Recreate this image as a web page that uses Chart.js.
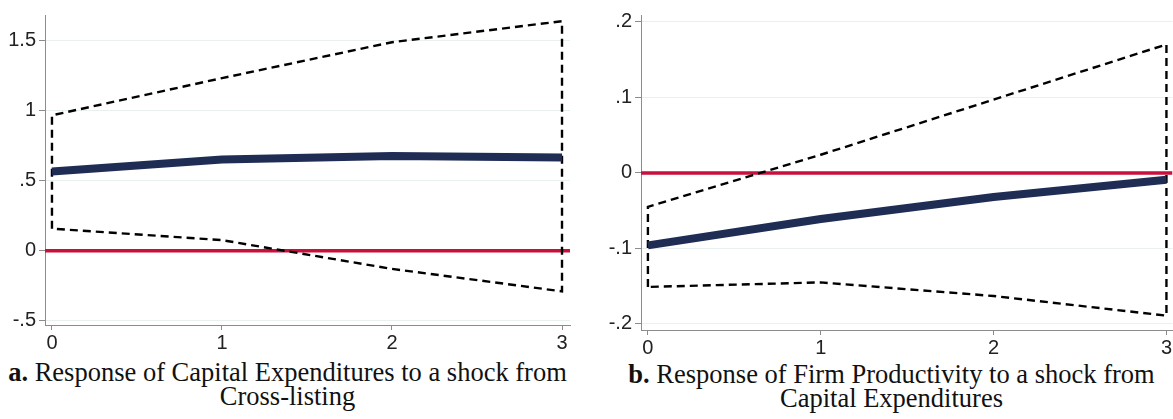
<!DOCTYPE html>
<html>
<head>
<meta charset="utf-8">
<script src="https://cdn.jsdelivr.net/npm/chart.js@4.4.1/dist/chart.umd.min.js"></script>
<style>
  html, body { margin: 0; padding: 0; background: #fff; }
  body { width: 1173px; height: 419px; position: relative; overflow: hidden; }
  .panel { position: absolute; top: 0; height: 355px; }
  .caption {
    position: absolute; text-align: center; color: #111;
    font-family: "Liberation Serif", "Times New Roman", serif;
    font-size: 26.5px; line-height: 24px; white-space: nowrap;
  }
</style>
</head>
<body>
<div class="panel" style="left:0; width:585px;"><canvas id="capexChart"></canvas></div>
<div class="panel" style="left:590px; width:583px;"><canvas id="prodChart"></canvas></div>
<div class="caption" style="left:0; width:575px; top:360px;"><b>a.</b> Response of Capital Expenditures to a shock from<br>Cross-listing</div>
<div class="caption" style="left:610px; width:563px; top:362px;"><b>b.</b> Response of Firm Productivity to a shock from<br>Capital Expenditures</div>
<script>
// periods after the shock
const horizons = [0, 1, 2, 3];

// a. capex response to cross-listing
const capexIrf   = [0.565, 0.65, 0.675, 0.665];
const capexUpper = [0.965, 1.23, 1.486, 1.636];
const capexLower = [0.157, 0.075, -0.13, -0.29];
const capexTicks = [-0.5, 0, 0.5, 1, 1.5];
const capexTickLabels = ['-.5', '0', '.5', '1', '1.5'];

// b. productivity response to capex
const prodIrf   = [-0.096, -0.061, -0.032, -0.009];
const prodUpper = [-0.045, 0.024, 0.097, 0.17];
const prodLower = [-0.151, -0.145, -0.163, -0.189];
const prodTicks = [-0.2, -0.1, 0, 0.1, 0.2];
const prodTickLabels = ['-.2', '-.1', '0', '.1', '.2'];

const NAVY = '#1f2d55';
const RED = '#c8103c';
const GRID = '#e9f0f0';
const AXIS = '#8c8c8c';

Chart.defaults.font.family = "'Liberation Sans', Arial, sans-serif";
Chart.defaults.font.size = 20;
Chart.defaults.color = '#222';

// closed outline of the confidence band: up the left end, along upper, down the right end, back along lower
function bandOutline(lower, upper) {
    const pts = [{ x: horizons[0], y: lower[0] }];
    horizons.forEach((h, i) => pts.push({ x: h, y: upper[i] }));
    for (let i = horizons.length - 1; i >= 0; i--) pts.push({ x: horizons[i], y: lower[i] });
    return pts;
}

function makeChart(id, o) {
    const ctx = document.getElementById(id).getContext('2d');
    return new Chart(ctx, {
        type: 'line',
        data: {
            datasets: [
                {
                    data: horizons.map((h, i) => ({ x: h, y: o.irf[i] })),
                    borderColor: NAVY, borderWidth: 8, pointRadius: 0,
                    borderCapStyle: 'butt', order: 0
                },
                {
                    data: bandOutline(o.lower, o.upper),
                    borderColor: '#000', borderWidth: 2.4, borderDash: [8, 5],
                    pointRadius: 0, order: 1
                },
                {
                    data: [{ x: o.xMin, y: 0 }, { x: o.xMax, y: 0 }],
                    borderColor: RED, borderWidth: 3.5, pointRadius: 0, order: 2
                }
            ]
        },
        options: {
            animation: false,
            responsive: true,
            maintainAspectRatio: false,
            devicePixelRatio: 1,
            layout: { padding: { top: o.top, right: o.right, left: 0, bottom: 0 } },
            plugins: { legend: { display: false }, tooltip: { enabled: false } },
            elements: { line: { tension: 0 } },
            scales: {
                x: {
                    type: 'linear', min: o.xMin, max: o.xMax,
                    afterBuildTicks: s => { s.ticks = horizons.map(v => ({ value: v })); },
                    afterFit: s => { s.height = o.xAxisH; },
                    ticks: { font: { size: 20 }, color: '#222', padding: 1, maxRotation: 0 },
                    grid: { drawOnChartArea: false, tickColor: AXIS, tickLength: 5 },
                    border: { color: AXIS, width: 1 }
                },
                y: {
                    type: 'linear', min: o.yMin, max: o.yMax,
                    afterBuildTicks: s => { s.ticks = o.ticks.map(v => ({ value: v })); },
                    afterFit: s => { s.width = o.yAxisW; },
                    ticks: {
                        font: { size: 20 }, color: '#222', padding: 3,
                        callback: (v, i) => o.tickLabels[i]
                    },
                    grid: { color: GRID, tickColor: AXIS, tickLength: 6 },
                    border: { color: AXIS, width: 1 }
                }
            }
        }
    });
}

makeChart('capexChart', {
    irf: capexIrf, upper: capexUpper, lower: capexLower,
    ticks: capexTicks, tickLabels: capexTickLabels,
    xMin: -0.041, xMax: 3.047, yMin: -0.53, yMax: 1.68,
    top: 13, right: 15, yAxisW: 45, xAxisH: 30
});

makeChart('prodChart', {
    irf: prodIrf, upper: prodUpper, lower: prodLower,
    ticks: prodTicks, tickLabels: prodTickLabels,
    xMin: -0.04, xMax: 3.035, yMin: -0.208, yMax: 0.209,
    top: 15, right: 0, yAxisW: 51, xAxisH: 25
});
</script>
</body>
</html>
